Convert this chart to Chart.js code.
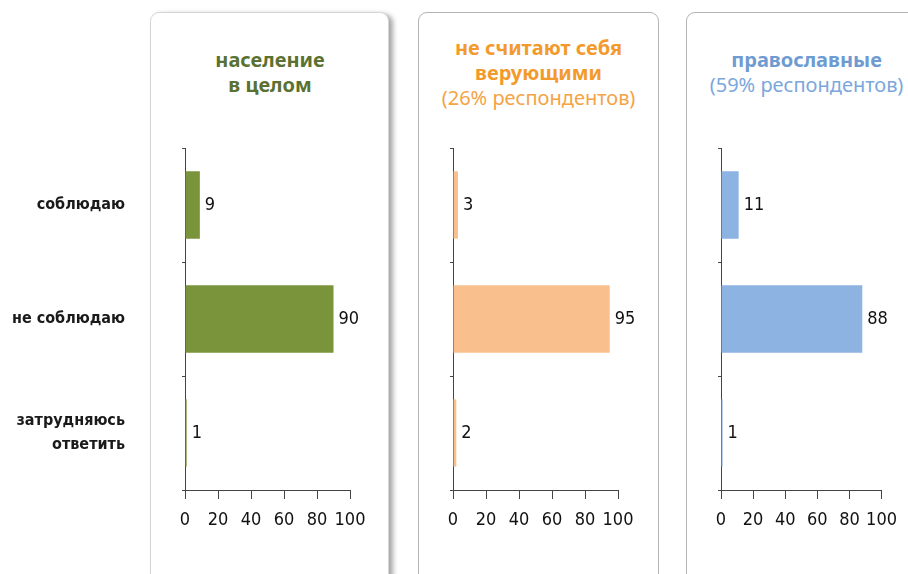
<!DOCTYPE html>
<html>
<head>
<meta charset="utf-8">
<script src="https://cdn.jsdelivr.net/npm/chart.js@4"></script>
<style>
  body { margin: 0; background: #fff; width: 908px; height: 574px; overflow: hidden; position: relative; font-family: "Noto Sans", sans-serif; }
  .card { position: absolute; top: 12px; height: 620px; width: 239px; background: #fff; border: 1px solid #b3b3b3; border-radius: 9px; box-sizing: border-box; }
  #card1 { left: 150px; border-color: #d6d6d6; box-shadow: 4px 2px 5px rgba(0,0,0,0.35); }
  #card2 { left: 418px; width: 241px; }
  #card3 { left: 686px; width: 241px; }
  .title { position: absolute; text-align: center; font-size: 20px; line-height: 25px; }
  .title b { font-weight: 700; }
  .title span { font-weight: 400; }
  canvas { position: absolute; top: 140px; }
</style>
</head>
<body>
<div class="card" id="card1"></div>
<div class="card" id="card2"></div>
<div class="card" id="card3"></div>

<div class="title" style="left:150px;width:240px;top:47px;color:#5a7131"><b>население<br>в целом</b></div>
<div class="title" style="left:418px;width:241px;top:35px;color:#f39a2c"><b>не считают себя<br>верующими</b><br><span style="color:#f5a344">(26% респондентов)</span></div>
<div class="title" style="left:686px;width:241px;top:47px;color:#6d9bd2"><b>православные</b><br><span style="color:#7ba7dc">(59% респондентов)</span></div>

<canvas id="c1" width="389" height="400" style="left:0px"></canvas>
<canvas id="c2" width="240" height="400" style="left:418px"></canvas>
<canvas id="c3" width="222" height="400" style="left:686px"></canvas>

<script>
// категории и значения (%)
const categories = ['соблюдаю', 'не соблюдаю', ['затрудняюсь', 'ответить']];
const valuesAll = [9, 90, 1];            // население в целом
const valuesNonBelievers = [3, 95, 2];   // не считают себя верующими
const valuesOrthodox = [11, 88, 1];      // православные
const xTickValues = [0, 20, 40, 60, 80, 100];

const FONT = "'Liberation Sans Narrow', 'DejaVu Sans Condensed', 'Noto Sans', sans-serif";
const AXIS_COLOR = '#444';

// подписи значений справа от столбцов
const valueLabels = {
  id: 'valueLabels',
  afterDatasetsDraw(chart) {
    const ctx = chart.ctx;
    const meta = chart.getDatasetMeta(0);
    ctx.save();
    ctx.font = '18px ' + FONT;
    ctx.fillStyle = '#111';
    ctx.textBaseline = 'middle';
    ctx.textAlign = 'left';
    meta.data.forEach((bar, i) => {
      ctx.fillText(chart.data.datasets[0].data[i], bar.x + 5, bar.y);
    });
    ctx.restore();
  }
};

function makeChart(id, values, color, showLabels, yWidth, padRight) {
  new Chart(document.getElementById(id), {
    type: 'bar',
    data: {
      labels: categories,
      datasets: [{
        data: values,
        backgroundColor: color,
        borderWidth: 0,
        barPercentage: 0.59,
        categoryPercentage: 1
      }]
    },
    options: {
      indexAxis: 'y',
      responsive: false,
      animation: false,
      layout: { padding: { top: 8, right: padRight, left: 0, bottom: 0 } },
      plugins: { legend: { display: false }, tooltip: { enabled: false } },
      scales: {
        y: {
          afterFit(scale) {
            scale.width = yWidth;
            scale.paddingTop = 0;
            scale.paddingBottom = 0;
          },
          border: { display: true, color: AXIS_COLOR, width: 1 },
          grid: { display: true, drawOnChartArea: false, drawTicks: true, tickLength: 3, color: AXIS_COLOR },
          ticks: {
            display: showLabels,
            padding: 57,
            color: '#1a1a1a',
            font: { family: FONT, size: 16, weight: '600', lineHeight: 1.5 }
          }
        },
        x: {
          min: 0,
          max: 100,
          afterFit(scale) { scale.height = 50; },
          afterBuildTicks(scale) { scale.ticks = xTickValues.map(v => ({ value: v })); },
          border: { display: true, color: AXIS_COLOR, width: 1 },
          grid: { display: true, drawOnChartArea: false, drawTicks: true, tickLength: 9, color: AXIS_COLOR },
          ticks: {
            padding: 11,
            color: '#111',
            maxRotation: 0,
            autoSkip: false,
            font: { family: FONT, size: 18 }
          }
        }
      }
    },
    plugins: [valueLabels]
  });
}

makeChart('c1', valuesAll, '#7a943b', true, 185, 39);
makeChart('c2', valuesNonBelievers, '#f9c08d', false, 35, 40);
makeChart('c3', valuesOrthodox, '#8db3e2', false, 35, 22);
</script>
</body>
</html>
